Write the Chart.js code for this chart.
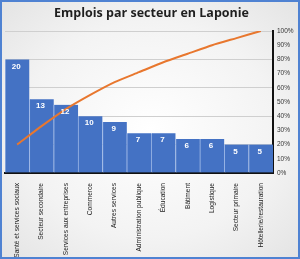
<!DOCTYPE html>
<html lang="fr">
<head>
  <meta charset="UTF-8">
  <title>Emplois par secteur en Laponie</title>
  <script src="https://cdn.jsdelivr.net/npm/chart.js"></script>
  <style>
    html, body { margin: 0; padding: 0; }
    .frame {
      width: 296px;
      height: 255px;
      border: 2px solid #4f82d2;
      background: radial-gradient(ellipse at center, #ffffff 0%, #f3f3f3 60%, #e4e4e4 100%);
    }
    canvas { display: block; }
  </style>
</head>
<body>
<div class="frame">
  <canvas id="chart" width="296" height="255"></canvas>
</div>
<script>
  const categories = ['Santé et services sociaux', 'Secteur secondaire', 'Services aux entreprises',
    'Commerce', 'Autres services', 'Administration publique', 'Éducation', 'Bâtiment',
    'Logistique', 'Secteur primaire', 'Hôtellerie/restauration'];
  const emplois = [20, 13, 12, 10, 9, 7, 7, 6, 6, 5, 5];
  const cumulPct = [20, 33, 45, 55, 64, 71, 78, 84, 90, 95, 100];

  // white value labels just inside the bar tops
  const barLabels = {
    id: 'barLabels',
    afterDatasetsDraw(chart) {
      const ctx = chart.ctx;
      const meta = chart.getDatasetMeta(1);
      ctx.save();
      ctx.fillStyle = '#ffffff';
      ctx.font = 'bold 8px "Liberation Sans"';
      ctx.textAlign = 'center';
      ctx.textBaseline = 'top';
      meta.data.forEach((bar, i) => {
        ctx.fillText(emplois[i], bar.x - 1, bar.y + 3);
      });
      ctx.restore();
    }
  };

  new Chart(document.getElementById('chart'), {
    data: {
      labels: categories,
      datasets: [
        {
          type: 'line',
          data: cumulPct,
          yAxisID: 'y1',
          borderColor: '#e8772e',
          borderWidth: 2,
          pointRadius: 0,
          tension: 0.2,
          order: 0
        },
        {
          type: 'bar',
          data: emplois,
          yAxisID: 'y',
          backgroundColor: '#4472c4',
          borderColor: '#9bb6e6',
          borderWidth: { left: 1, right: 0, top: 0, bottom: 0 },
          borderSkipped: false,
          barPercentage: 1,
          categoryPercentage: 1,
          order: 1
        }
      ]
    },
    options: {
      responsive: false,
      animation: false,
      layout: { padding: { left: 3, right: 0, top: 0, bottom: 0 } },
      plugins: {
        legend: { display: false },
        tooltip: { enabled: false },
        title: {
          display: true,
          text: 'Emplois par secteur en Laponie',
          color: '#1f1f1f',
          font: { family: 'Open Sans', size: 12.5, weight: 'bold' },
          padding: { top: 4, bottom: 10 }
        }
      },
      scales: {
        x: {
          grid: { display: false },
          border: { color: '#111', width: 2 },
          afterFit: scale => { scale.height = 84; },
          ticks: {
            minRotation: 90,
            maxRotation: 90,
            color: '#222',
            font: { family: 'Liberation Sans', size: 6.6 },
            padding: 2
          }
        },
        y: {
          position: 'left',
          min: 0,
          max: 25,
          ticks: { display: false, stepSize: 5 },
          border: { display: false },
          grid: { color: '#cfcfcf', drawTicks: false }
        },
        y1: {
          position: 'right',
          min: 0,
          max: 100,
          grid: { display: false, drawTicks: false },
          border: { color: '#111', width: 2 },
          afterFit: scale => { scale.width = 25; },
          ticks: {
            stepSize: 10,
            color: '#333',
            font: { family: 'Liberation Sans', size: 6.5 },
            padding: 4,
            callback: v => v + '%'
          }
        }
      }
    },
    plugins: [barLabels]
  });
</script>
</body>
</html>
